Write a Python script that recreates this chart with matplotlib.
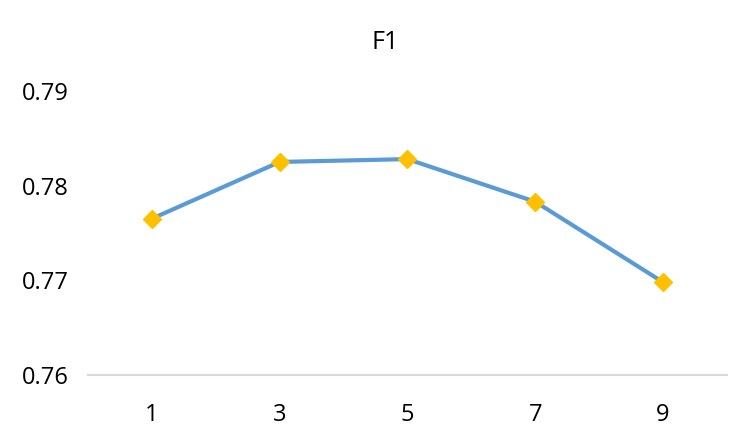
import matplotlib
matplotlib.use("Agg")
import matplotlib.pyplot as plt

# valores
ventanas = ["1", "3", "5", "7", "9"]
f1 = [0.7765, 0.7825, 0.7828, 0.7783, 0.7698]

plt.rcParams['font.family'] = ['Open Sans', 'DejaVu Sans']

fig = plt.figure(figsize=(7.51, 4.48), dpi=100)
ax = fig.add_axes([0.117, 0.163, 0.851, 0.634])

x = list(range(len(ventanas)))
ax.plot(x, f1, color='#5B9BD5', linewidth=3.0,
        marker='D', markersize=9, markerfacecolor='#FFC000',
        markeredgecolor='#FFC000', zorder=3)

ax.set_xlim(-0.5, len(ventanas) - 0.5)
ax.set_ylim(0.76, 0.79)
ax.set_yticks([0.76, 0.77, 0.78, 0.79])
ax.set_yticklabels(["0.76", "0.77", "0.78", "0.79"])
ax.set_xticks(x)
ax.set_xticklabels(ventanas)

for s in ['top', 'right', 'left']:
    ax.spines[s].set_visible(False)
ax.spines['bottom'].set_color('#D9D9D9')
ax.spines['bottom'].set_linewidth(1.5)
ax.tick_params(axis='both', length=0, labelsize=17, colors='black')
ax.tick_params(axis='y', pad=14)
ax.tick_params(axis='x', pad=20)

fig.text(0.513, 0.906, "F1", ha='center', va='center', fontsize=18)

fig.savefig("out.png", dpi=100)
